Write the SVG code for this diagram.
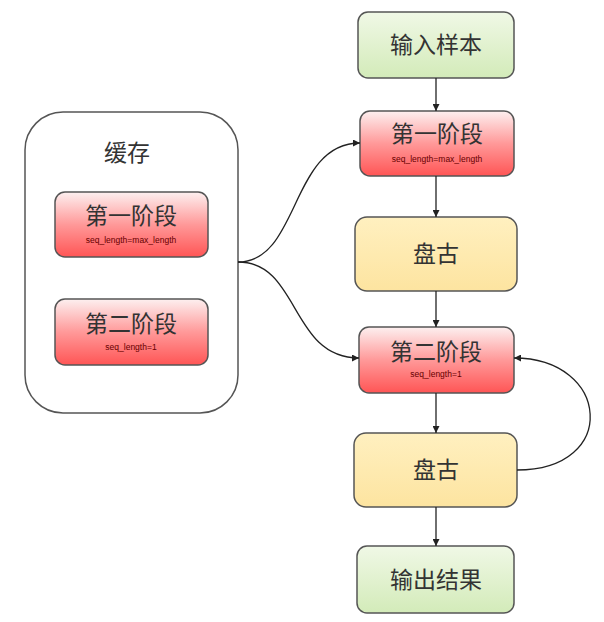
<svg xmlns="http://www.w3.org/2000/svg" width="604" height="622" viewBox="0 0 604 622">
<defs>
<linearGradient id="gGreen" x1="0" y1="0" x2="0" y2="1"><stop offset="0" stop-color="#f0f8e6"/><stop offset="1" stop-color="#d3ebb9"/></linearGradient>
<linearGradient id="gRed" x1="0" y1="0" x2="0" y2="1"><stop offset="0" stop-color="#fdf0f0"/><stop offset="0.5" stop-color="#f99"/><stop offset="1" stop-color="#f55"/></linearGradient>
<linearGradient id="gYel" x1="0" y1="0" x2="0" y2="1"><stop offset="0" stop-color="#fff0c0"/><stop offset="1" stop-color="#fde4a0"/></linearGradient>
<marker id="arr" viewBox="0 0 10 10" refX="10" refY="5" markerWidth="7" markerHeight="7" orient="auto-start-reverse" markerUnits="userSpaceOnUse"><path d="M0,0 L10,5 L0,10 z" fill="#222"/></marker>
<style>
.box{stroke:#555;stroke-width:1.5}
.g{fill:url(#gGreen)}
.r{fill:url(#gRed)}
.y{fill:url(#gYel)}
.cn{font-family:"Noto Sans CJK SC",sans-serif;font-size:23px;fill:#333;text-anchor:middle}
.sm{font-family:"Liberation Sans",Arial,sans-serif;font-size:8.5px;fill:#600;text-anchor:middle}
.ln{fill:none;stroke:#222;stroke-width:1.3}
</style>
</defs>
<g id="cache">
<rect x="25" y="112" width="213" height="301" rx="38" fill="#fff" stroke="#555" stroke-width="1.5"/>
<text x="127" y="161" class="cn">缓存</text>
</g>
<g id="cache-stage1">
<rect class="box r" x="55" y="192" width="153" height="65" rx="10"/>
<text x="131" y="224" class="cn">第一阶段</text>
<text x="131" y="243" class="sm">seq_length=max_length</text>
</g>
<g id="cache-stage2">
<rect class="box r" x="55" y="299" width="153" height="66" rx="10"/>
<text x="131" y="332" class="cn">第二阶段</text>
<text x="131" y="350" class="sm">seq_length=1</text>
</g>
<g id="input">
<rect class="box g" x="358" y="12" width="156" height="66" rx="10"/>
<text x="436" y="53" class="cn">输入样本</text>
</g>
<g id="stage1">
<rect class="box r" x="360" y="111" width="154" height="65" rx="10"/>
<text x="437" y="142" class="cn">第一阶段</text>
<text x="437" y="162" class="sm">seq_length=max_length</text>
</g>
<g id="pangu1">
<rect class="box y" x="355" y="217" width="162" height="74" rx="12"/>
<text x="436" y="262" class="cn">盘古</text>
</g>
<g id="stage2">
<rect class="box r" x="359" y="327" width="155" height="66" rx="10"/>
<text x="436" y="360" class="cn">第二阶段</text>
<text x="436" y="377" class="sm">seq_length=1</text>
</g>
<g id="pangu2">
<rect class="box y" x="354" y="433" width="163" height="74" rx="12"/>
<text x="436" y="478" class="cn">盘古</text>
</g>
<g id="output">
<rect class="box g" x="357" y="546" width="157" height="67" rx="10"/>
<text x="436" y="588" class="cn">输出结果</text>
</g>
<g id="connectors">
<path class="ln" d="M436,78 L436,111" marker-end="url(#arr)"/>
<path class="ln" d="M436,176 L436,217" marker-end="url(#arr)"/>
<path class="ln" d="M436,291 L436,327" marker-end="url(#arr)"/>
<path class="ln" d="M436,393 L436,433" marker-end="url(#arr)"/>
<path class="ln" d="M436,507 L436,546" marker-end="url(#arr)"/>
<path class="ln" d="M238,262 C300,262 290,143 360,143" marker-end="url(#arr)"/>
<path class="ln" d="M238,262 C300,262 290,358 359,358" marker-end="url(#arr)"/>
<path class="ln" d="M517,470 C620,470 610,358 514,358" marker-end="url(#arr)"/>
</g>
</svg>
